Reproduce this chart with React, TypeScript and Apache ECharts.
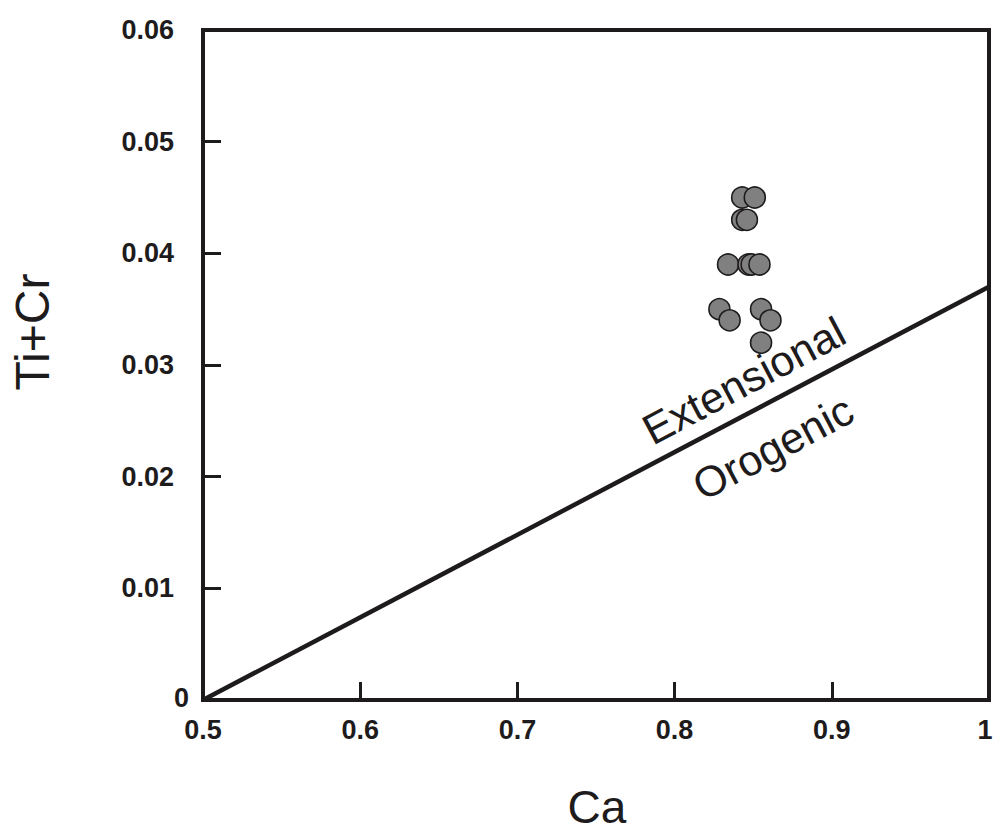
import React, { useEffect, useRef } from "react";
import * as echarts from "echarts";

const CA = [0.843, 0.851, 0.843, 0.846, 0.834, 0.847, 0.849, 0.854, 0.8285, 0.835, 0.855, 0.861, 0.855];
const TI_CR = [0.045, 0.045, 0.043, 0.043, 0.039, 0.039, 0.039, 0.039, 0.035, 0.034, 0.035, 0.034, 0.032];
const BOUNDARY_CA = [0.5, 1.0];
const BOUNDARY_TICR = [0, 0.037];
const FIELD_NAMES = ["Extensional", "Orogenic"];
const FIELD_CA = [0.844, 0.8626];
const FIELD_TICR = [0.0286, 0.0226];

const INK = "#1e1b1c";

export default function App() {
  const ref = useRef<HTMLDivElement>(null);
  useEffect(() => {
    document.body.style.margin = "0";
    const chart = echarts.init(ref.current!, undefined, { renderer: "svg" });
    const font = "'Liberation Sans', Arial, sans-serif";
    chart.setOption({
      animation: false,
      backgroundColor: "#ffffff",
      grid: {
        left: 203,
        right: 4,
        top: 30,
        bottom: 134,
        outerBoundsMode: "none",
        containLabel: false,
        show: true,
        borderColor: INK,
        borderWidth: 4,
      },
      xAxis: {
        type: "value",
        min: 0.5,
        max: 1,
        interval: 0.1,
        axisLine: { show: true, lineStyle: { color: INK, width: 4 } },
        axisTick: { show: true, inside: true, length: 18, lineStyle: { color: INK, width: 3 } },
        axisLabel: {
          color: INK,
          fontSize: 27,
          fontWeight: "bold",
          fontFamily: font,
          margin: 16,
          formatter: (v: number) => (Math.abs(v - 1) < 1e-9 ? "{r|1}" : v.toFixed(1)),
          rich: {
            r: { fontSize: 27, fontWeight: "bold", fontFamily: font, color: INK, padding: [0, 8, 0, 0] },
          },
        },
        splitLine: { show: false },
      },
      yAxis: {
        type: "value",
        min: 0,
        max: 0.06,
        interval: 0.01,
        axisLine: { show: true, lineStyle: { color: INK, width: 4 } },
        axisTick: { show: true, inside: true, length: 18, lineStyle: { color: INK, width: 3 } },
        axisLabel: {
          color: INK,
          fontSize: 27,
          fontWeight: "bold",
          fontFamily: font,
          margin: 29,
          formatter: (v: number) => (v === 0 ? "" : v.toFixed(2)),
        },
        splitLine: { show: false },
      },
      graphic: [
        {
          type: "text",
          x: 189,
          y: 698,
          style: {
            text: "0",
            fontSize: 27,
            fontWeight: "bold",
            fontFamily: font,
            fill: INK,
            align: "right",
            verticalAlign: "middle",
          },
        },
        {
          type: "text",
          x: 32,
          y: 332,
          rotation: Math.PI / 2,
          style: {
            text: "Ti+Cr",
            fontSize: 48,
            fontFamily: font,
            fill: INK,
            align: "center",
            verticalAlign: "middle",
          },
        },
        {
          type: "text",
          x: 597,
          y: 807,
          style: {
            text: "Ca",
            fontSize: 46,
            fontFamily: font,
            fill: INK,
            align: "center",
            verticalAlign: "middle",
          },
        },
      ],
      series: [
        {
          type: "line",
          data: BOUNDARY_CA.map((x, i) => [x, BOUNDARY_TICR[i]]),
          symbol: "none",
          lineStyle: { color: INK, width: 4.5 },
          z: 2,
        },
        {
          type: "scatter",
          data: FIELD_NAMES.map((n, i) => ({ name: n, value: [FIELD_CA[i], FIELD_TICR[i]] })),
          symbolSize: 0,
          itemStyle: { opacity: 0 },
          label: {
            show: true,
            position: "inside",
            formatter: (p: any) => p.name,
            rotate: 28,
            fontSize: 43,
            fontFamily: font,
            color: INK,
            opacity: 1,
            textBorderWidth: 0,
          },
          emphasis: { disabled: true },
          z: 3,
        },
        {
          type: "scatter",
          data: CA.map((x, i) => [x, TI_CR[i]]),
          symbol: "circle",
          symbolSize: 21,
          itemStyle: { color: "#808080", borderColor: INK, borderWidth: 1.6, opacity: 1 },
          z: 4,
        },
      ],
    });
    return () => chart.dispose();
  }, []);
  return <div ref={ref} style={{ width: 993, height: 834 }} />;
}
